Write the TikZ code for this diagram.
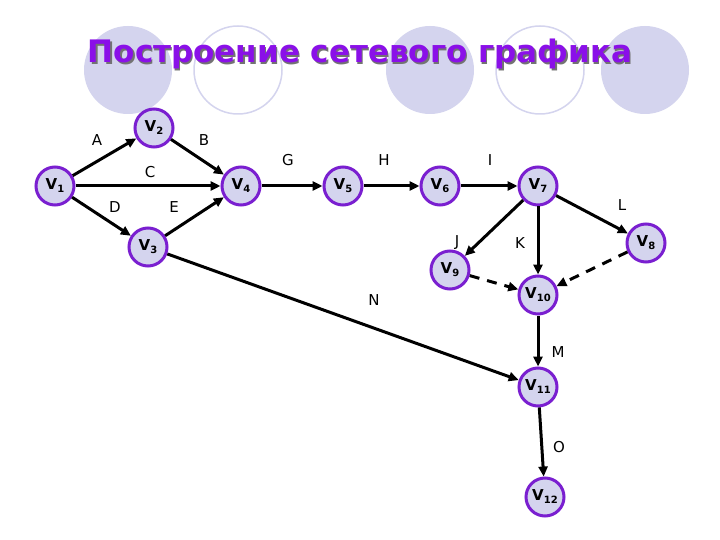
\documentclass[tikz,border=0pt]{standalone}
\usepackage{fontspec}
\setmainfont{DejaVu Sans}
\usetikzlibrary{arrows.meta}
\definecolor{lav}{HTML}{D4D4EE}
\definecolor{pur}{HTML}{7A1FD0}
\definecolor{tit}{HTML}{8A10E8}
\newcommand{\sbs}[1]{\raisebox{-3pt}{\fontsize{10}{10}\selectfont #1}}
\begin{document}
\begin{tikzpicture}[x=1pt,y=-1pt,
  vtx/.style={circle,draw=pur,line width=3pt,fill=lav,minimum size=38pt,inner sep=0pt,font=\fontsize{15}{15}\selectfont\bfseries},
  arr/.style={line width=3pt,-{Triangle[length=10pt,width=9pt]}},
  darr/.style={arr,dash pattern=on 10pt off 8pt},
  lab/.style={font=\fontsize{15}{15}\selectfont}]
\fill[white] (0,0) rectangle (720,540);
\fill[lav] (128,70) circle (44);
\draw[lav,line width=1.5pt] (238,70) circle (44);
\fill[lav] (430,70) circle (44);
\draw[lav,line width=1.5pt] (540,70) circle (44);
\fill[lav] (645,70) circle (44);
\node[font=\fontsize{31}{31}\selectfont\bfseries,text=tit] (title) at (360,55) {\rlap{\kern1.5pt\raisebox{-1.5pt}{\color{black!55}Построение сетевого графика}}Построение сетевого графика};
\node[vtx] (v1) at (55,186) {V\sbs{1}};
\node[vtx] (v2) at (154,128) {V\sbs{2}};
\node[vtx] (v3) at (148,247) {V\sbs{3}};
\node[vtx] (v4) at (241,186) {V\sbs{4}};
\node[vtx] (v5) at (343,186) {V\sbs{5}};
\node[vtx] (v6) at (440,186) {V\sbs{6}};
\node[vtx] (v7) at (538,186) {V\sbs{7}};
\node[vtx] (v8) at (646,243) {V\sbs{8}};
\node[vtx] (v9) at (450,270) {V\sbs{9}};
\node[vtx] (v10) at (538,295) {V\sbs{10}};
\node[vtx] (v11) at (538,387) {V\sbs{11}};
\node[vtx] (v12) at (545,497) {V\sbs{12}};
\draw[arr] (v1)--(v2); \draw[arr] (v2)--(v4); \draw[arr] (v1)--(v4);
\draw[arr] (v1)--(v3); \draw[arr] (v3)--(v4); \draw[arr] (v4)--(v5);
\draw[arr] (v5)--(v6); \draw[arr] (v6)--(v7); \draw[arr] (v7)--(v9);
\draw[arr] (v7)--(v10); \draw[arr] (v7)--(v8); \draw[darr] (v9)--(v10);
\draw[darr] (v8)--(v10); \draw[arr] (v3)--(v11); \draw[arr] (v10)--(v11);
\draw[arr] (v11)--(v12);
\node[lab] (la) at (97,140) {A}; \node[lab] (lb) at (204,140) {B};
\node[lab] (lc) at (150,172) {C}; \node[lab] (ld) at (115,207) {D};
\node[lab] (le) at (174,207) {E}; \node[lab] (lg) at (288,160) {G};
\node[lab] (lh) at (384,160) {H}; \node[lab] (li) at (490,160) {I};
\node[lab] (lj) at (457,243) {J}; \node[lab] (lk) at (520,243) {K};
\node[lab] (ll) at (622,205) {L}; \node[lab] (ln) at (374,300) {N};
\node[lab] (lm) at (558,352) {M}; \node[lab] (lo) at (559,447) {O};
\end{tikzpicture}
\end{document}
